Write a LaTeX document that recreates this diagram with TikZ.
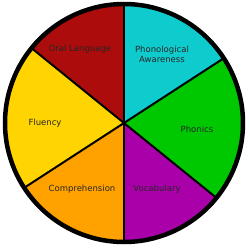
\documentclass[tikz,border=0pt]{standalone}
\usepackage{fontspec}
\setmainfont{DejaVu Sans}
\usetikzlibrary{calc}
\definecolor{cRed}{RGB}{172,12,12}
\definecolor{cCyan}{RGB}{14,204,206}
\definecolor{cGreen}{RGB}{0,200,0}
\definecolor{cPurple}{RGB}{170,0,170}
\definecolor{cOrange}{RGB}{255,162,0}
\definecolor{cYellow}{RGB}{255,212,0}
\begin{document}
\begin{tikzpicture}[x=1pt,y=1pt,
  lbl/.style={font=\fontsize{8.5}{10}\selectfont, text=black!85, align=center, inner sep=0pt},
  spoke/.style={line width=2pt, black}]
\useasboundingbox (0,0) rectangle (250,250);
\coordinate (c) at (124,127);
\def\R{119pt}
\foreach \a/\b/\col in {90/141/cRed,141/213/cYellow,213/270/cOrange,270/321/cPurple,321/393/cGreen,33/90/cCyan}{
  \fill[\col] (c) -- ($(c)+(\a:\R)$) arc[start angle=\a,end angle=\b,radius=\R] -- cycle;
}
\coordinate (p90) at ($(c)+(90:\R)$);
\coordinate (p141) at ($(c)+(141:\R)$);
\coordinate (p213) at ($(c)+(213:\R)$);
\coordinate (p270) at ($(c)+(270:\R)$);
\coordinate (p321) at ($(c)+(321:\R)$);
\coordinate (p33) at ($(c)+(33:\R)$);
\foreach \p in {p90,p141,p213,p270,p321,p33}{\draw[spoke] (c) -- (\p);}
\node[circle, draw, line width=4.5pt, minimum size=238pt, inner sep=0pt] (rim) at (c) {};
\node[lbl] (oral) at (80,201) {Oral Language};
\node[lbl] (phono) at (162,196) {Phonological\\Awareness};
\node[lbl] (flu) at (45,127) {Fluency};
\node[lbl] (phon) at (197,121) {Phonics};
\node[lbl] (comp) at (82,61) {Comprehension};
\node[lbl] (voc) at (157,61) {Vocabulary};
\end{tikzpicture}
\end{document}
